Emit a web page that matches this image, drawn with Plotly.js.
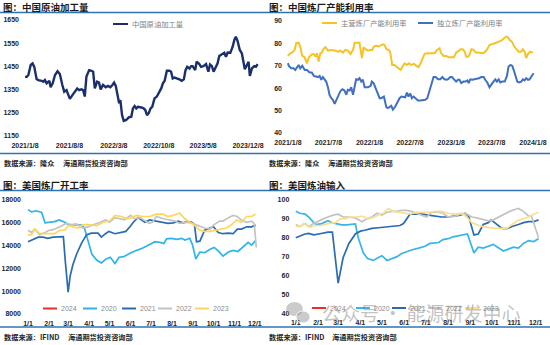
<!DOCTYPE html>
<html><head><meta charset="utf-8">
<script src="https://cdn.plot.ly/plotly-3.0.1.min.js"></script>
<style>html,body{margin:0;padding:0;background:#fff}#chart{width:550px;height:345px}</style>
</head><body><div id="chart"></div>
<script>
// ---------- Panel 1: China crude runs (days since 2021-01-08) ----------
const crudeStart = '2021-01-08';
const crudeDays = [0,8,16,27,36,44,55,63,79,87,95,103,116,122,132,143,155,166,178,187,198,206,214,227,238,249,258,269,277,285,293,306,317,325,333,344,353,361,372,385,396,407,417,425,433,441,449,455,463,471,483,495,507,515,523,531,539,555,566,574,582,591,599,607,618,629,639,650,658,666,677,689,697,705,713,729,737,748,758,766,774,785,793,800,812,819,832,840,851,864,875,883,892,900,911,919,927,935,943,951,959,967,980,991,999,1006,1014,1025,1035,1041,1049,1059,1067,1073,1083,1094,1102,1110];
const crudeRuns = [1405,1405,1413,1456,1463,1448,1396,1391,1388,1384,1391,1377,1388,1360,1377,1413,1429,1417,1370,1341,1348,1327,1310,1327,1341,1355,1348,1351,1348,1320,1406,1434,1431,1427,1355,1384,1380,1351,1370,1360,1366,1360,1370,1380,1366,1320,1291,1305,1240,1215,1219,1230,1233,1269,1279,1269,1276,1273,1269,1262,1240,1250,1269,1276,1312,1320,1334,1355,1377,1387,1431,1431,1427,1398,1402,1398,1394,1388,1394,1434,1448,1441,1451,1451,1434,1470,1460,1448,1451,1460,1427,1458,1451,1427,1448,1463,1495,1499,1503,1509,1491,1510,1509,1535,1564,1578,1561,1521,1506,1470,1438,1456,1470,1409,1441,1451,1448,1460];
const crudeName = '中国原油加工量';
const p1TickDates = ['2021-01-08','2021-08-08','2022-03-08','2022-10-08','2023-05-08','2023-12-08'];
const p1TickText = ['2021/1/8','2021/8/8','2022/3/8','2022/10/8','2023/5/8','2023/12/8'];

// ---------- Panel 2: refinery utilisation ----------
const utilStart = '2021-01-08';
const mainDays = [0,7,18,30,37,48,55,64,75,85,94,104,115,124,130,137,145,152,161,168,179,194,209,224,234,246,256,268,280,291,298,310,320,331,338,347,358,370,377,384,395,405,414,425,432,440,450,457,466,477,484,495,504,514,522,532,541,551,563,574,584,592,600,611,623,641,656,666,678,685,696,708,718,730,742,752,763,772,782,790,797,805,812,820,830,839,849,860,872,882,891,901,916,931,942,954,966,976,983,991,1001,1010,1021,1031,1043,1050,1058,1065,1073,1083,1095];
const mainUtil = [74.3,75.2,75.8,77,80,80.2,78.5,74.3,73.7,71,73.7,74.8,75.2,74,75.5,71.8,75.5,75.8,77.7,78.2,76.7,77,76.7,76.2,76.7,75.8,77,76.7,75.2,77,80.2,80.2,80.2,73.3,78.2,77.3,76.7,77,77,78.5,78.8,78.5,78.8,79.5,79.2,77.3,77,76.2,70.3,70.3,69.6,68.8,68.1,69.9,71,70.3,71,70.3,70.8,69.9,69.3,70.8,72.8,75.2,75.5,75.5,75.5,77,77.7,75.5,74.3,74.3,73.7,73.7,73.7,75.8,76.7,77.3,77.3,76.2,74,74,74.8,77.3,77,75.8,75.8,75.5,75.5,76.2,77.3,79.2,79.6,80.2,80.7,81.1,82.2,82.9,82.6,81.4,80.7,78.8,77.3,76.2,76.2,77.3,76.2,73.3,75.2,76.2,75.8];
const indepDays = [0,4,15,25,33,42,48,55,64,75,85,97,107,116,127,134,142,149,156,164,171,179,186,194,201,209,216,224,234,243,253,261,268,276,283,291,298,305,313,320,328,335,343,358,370,375,383,390,399,410,417,429,440,447,454,462,469,480,489,499,507,517,524,532,539,547,554,562,569,581,592,603,614,623,630,638,645,651,660,671,681,690,700,708,715,726,733,742,752,760,767,775,785,794,802,808,815,824,834,845,854,864,875,882,891,901,909,919,927,934,942,949,958,969,979,986,995,1003,1010,1018,1025,1033,1043,1050,1058,1065,1073,1080,1091,1098];
const indepUtil = [71.1,69.9,68.8,68.8,68.1,69.6,70.3,68.8,69.9,68.1,68.1,66.9,66.9,65.4,65.1,64.9,65.4,63.7,64.9,63.7,62.9,60.4,57,55.5,54.8,53,54.8,56.2,58.5,59.5,58.9,57,59.2,58.9,60.4,57,61.4,63.9,63.7,64.4,62.9,63.7,60.4,60.4,61,62.9,62.2,60.4,58,55.5,55.5,56.2,51.5,51.1,51.5,52.1,50.4,51.8,53.6,55.5,56.2,55.9,55.9,58,56.2,57.6,55.5,56.2,55.5,54.5,54.5,54.8,54.8,55.5,57.6,60.4,62.9,64.9,64.9,63.9,63.9,64.9,63.9,63.7,63.9,64.9,64.9,63.7,62.9,63.7,63.7,62.2,62.9,62.9,63.4,62.2,63.9,63.7,63.9,64.4,64.4,64.9,64.9,63.7,62.5,60.4,61.8,62.9,63.9,62.9,63.9,62.5,62.9,62.9,65.4,69.6,70.3,69.9,67.8,65.1,62.9,62.5,62.9,63.9,63.4,64.4,63.7,63.9,65.9,66.6];
const utilNames = ['主营炼厂产能利用率','独立炼厂产能利用率'];
const p2TickDates = ['2021-01-08','2021-07-08','2022-01-08','2022-07-08','2023-01-08','2023-07-08','2024-01-08'];
const p2TickText = ['2021/1/8','2021/7/8','2022/1/8','2022/7/8','2023/1/8','2023/7/8','2024/1/8'];

// ---------- Panel 3: US refinery runs by year (day of year) ----------
const yearNames = ['2024','2020','2021','2022','2023'];
const runsDays = {
  '2024': [],
  '2020': [0,5,12,20,25,32,39,46,54,59,69,79,83,88,94,101,108,115,121,128,134,141,150,160,169,179,187,194,200,204,211,219,226,231,238,242,247,253,260,268,274,280,287,295,302,309,317,324,329,335],
  '2021': [0,7,15,22,29,37,44,52,55,59,62,66,72,79,86,93,103,108,114,119,128,138,144,150,155,162,167,172,179,189,199,206,214,221,228,236,241,245,248,253,260,265,273,280,287,295,302,308,314,322,329,335],
  '2022': [0,5,10,17,25,31,37,47,56,64,71,81,88,98,106,114,120,128,135,142,151,157,165,170,178,183,189,199,209,216,223,233,242,250,260,268,274,282,287,295,302,308,314,322,329,333,336],
  '2023': [0,5,10,17,25,32,39,47,54,59,66,74,81,88,101,111,120,128,138,145,152,160,169,179,189,199,206,214,223,231,238,246,253,260,268,275,285,292,300,307,314,322,329,335]
};
const runsVals = {
  '2024': [],
  '2020': [17100,16900,17000,16850,15950,16000,16050,16200,16000,15800,15750,15750,15500,14400,13200,12700,12450,12800,12950,12400,12950,13000,13300,13550,13750,14050,14300,14250,14150,14550,14600,14500,14600,14450,14600,14050,12800,13400,13350,13650,13800,13500,13050,13400,13550,13450,13900,14250,14000,14400],
  '2021': [14300,14500,14700,14700,14600,14700,14750,14750,12500,9900,11300,12300,13300,14200,14900,15050,15050,14700,15000,15200,15000,15100,15200,15600,16000,16400,16200,16000,16200,16100,16000,15900,15950,16100,15950,16050,16000,15800,14300,14350,15300,15400,15600,15100,15000,15050,15000,15400,15400,15600,15600,15750],
  '2022': [15300,15100,15400,14900,15100,15300,15350,15600,15900,15800,15850,15500,15600,15800,16000,16200,16000,16400,16300,16200,16600,16300,16400,16200,15900,16000,16500,16300,16200,16100,15900,16000,15900,15700,15500,15400,15800,16100,16100,16400,16600,16500,16200,16000,16100,15900,13800],
  '2023': [14900,14900,15400,15000,15000,15000,15000,15300,15300,15700,15600,15500,15800,15800,15700,16000,16100,16600,16500,16300,16400,16600,16500,16500,16700,16700,16500,16600,16800,16300,16000,15700,15300,15200,15200,15300,15400,15500,15800,16200,16000,16500,16500,16700]
};

// ---------- Panel 4: US refinery utilisation by year ----------
const utilYDays = {
  '2024': [],
  '2020': [0,6,13,18,25,29,36,41,45,50,57,64,71,78,83,87,94,100,108,115,120,127,134,141,147,154,161,171,180,187,194,199,205,212,219,226,233,239,248,254,261,268,275,281,289,296,303,310,317,324,331,338],
  '2021': [0,6,13,18,25,32,38,45,51,59,66,74,83,90,96,106,115,122,129,138,145,150,154,159,166,175,185,194,203,212,222,229,236,241,248,254,261,268,272,280,287,294,301,310,317,324,331,338],
  '2022': [0,6,13,18,25,32,38,45,52,59,66,73,83,92,99,106,113,120,127,134,141,147,154,161,168,175,182,189,199,205,212,222,229,236,245,252,261,268,275,282,291,298,305,310,317,324,328,338],
  '2023': [0,6,11,15,20,27,36,45,55,62,69,76,85,92,101,110,117,122,129,136,143,152,159,168,178,185,194,203,212,222,231,238,245,252,259,268,277,287,294,301,308,317,324,331,338]
};
const utilYVals = {
  '2024': [],
  '2020': [94,93,92.5,91,88,87,87.5,88.5,89,88,87.2,86.8,86.8,87,87.3,80,72,69,68,69.5,70.5,68,69,70,71.5,72.5,73.5,74.5,75.5,77,77.5,77.5,79,79.5,80.5,81,81.5,82,72,75,74.5,75.5,76.5,75,73,74,75,74.5,77,78.5,78,79.5],
  '2021': [80,81,82,82.3,81.5,82,82.5,83,83,56,69.5,77,82,83.5,84,85,85.3,85.5,86,86.3,86.5,87.5,89.5,92.5,92.5,92.5,92,91.5,91,91,91.5,92,93,91,81.5,82,87,88,89.5,87,85,84.8,86,87,88,88.5,88.5,89.5],
  '2022': [87,86,87.5,86,87.5,89,90,91,92,92.5,91,91,90.5,88.5,90,91,93,92,93.5,94,94,94.5,94.5,94,93,92,91,93.5,93.5,93,91,91.5,92.5,93,91,90.5,89.5,89,89.5,91,92.5,94,95,95.5,94,91.5,91.5,80],
  '2023': [86,86,87.5,86.5,85.5,86.5,86.5,87.5,88,90,90,91,91,91.5,90,91,92.5,93,95.5,94,93.5,93,92.5,93.5,93.5,93.5,94,94,93,92.5,93,91,88,87,86,85.5,85,85,85,87,89,90,91,92.5,93.5]
};
const seasonBase = '2021-01-01';
const seasonTickDates = ['2021-01-01','2021-02-01','2021-03-01','2021-04-01','2021-05-01','2021-06-01','2021-07-01','2021-08-01','2021-09-01','2021-10-01','2021-11-01','2021-12-01'];
const seasonTickText = ['1/1','2/1','3/1','4/1','5/1','6/1','7/1','8/1','9/1','10/1','11/1','12/1'];

// ---------- helpers / styles ----------
const W = 550, H = 345;
const px = v => v / W, py = v => 1 - v / H;
function addDays(base, n) {
  const d = new Date(base + 'T00:00:00Z');
  d.setUTCDate(d.getUTCDate() + Math.round(n));
  return d.toISOString().slice(0, 10);
}
const CJK = 'Noto Sans CJK SC, sans-serif';
const NUM = 'Liberation Sans, Arial, sans-serif';
const tickFont = {family: NUM, size: 7, color: '#262626', weight: 'bold'};
const c3 = {'2024':'#e8302a','2020':'#2fb3ea','2021':'#2a6cb2','2022':'#c3c3c3','2023':'#ffd65c'};
const c4 = {'2024':'#e8302a','2020':'#35b5ea','2021':'#2a6cb2','2022':'#c3c3c3','2023':'#f9e08f'};
const navy = '#1b2f6a', mainCol = '#f7c223', indepCol = '#4170c2';

const traces = [];
traces.push({x: crudeDays.map(d => addDays(crudeStart, d)), y: crudeRuns, name: crudeName, type: 'scatter', mode: 'lines',
  line: {color: navy, width: 2.4}, xaxis: 'x', yaxis: 'y'});
traces.push({x: mainDays.map(d => addDays(utilStart, d)), y: mainUtil, name: utilNames[0], type: 'scatter', mode: 'lines',
  line: {color: mainCol, width: 2}, xaxis: 'x2', yaxis: 'y2'});
traces.push({x: indepDays.map(d => addDays(utilStart, d)), y: indepUtil, name: utilNames[1], type: 'scatter', mode: 'lines',
  line: {color: indepCol, width: 2}, xaxis: 'x2', yaxis: 'y2'});
const drawOrder = ['2020','2021','2022','2023','2024'];
drawOrder.forEach(yr => {
  traces.push({x: runsDays[yr].map(d => addDays(seasonBase, d)), y: runsVals[yr], name: yr, type: 'scatter', mode: 'lines',
    line: {color: c3[yr], width: 1.7}, xaxis: 'x3', yaxis: 'y3'});
});
drawOrder.forEach(yr => {
  traces.push({x: utilYDays[yr].map(d => addDays(seasonBase, d)), y: utilYVals[yr], name: yr, type: 'scatter', mode: 'lines',
    line: {color: c4[yr], width: 1.7}, xaxis: 'x4', yaxis: 'y4'});
});

function xax(dom, base, r0, r1, tv, tt, anchor) {
  return {domain: [px(dom[0]), px(dom[1])], type: 'date', range: [addDays(base, r0), addDays(base, r1)],
    tickmode: 'array', tickvals: tv, ticktext: tt, tickfont: tickFont, showgrid: false, zeroline: false,
    showline: false, ticks: '', ticklabelstandoff: 4, anchor: anchor, fixedrange: true};
}
function yax(dom, r, t0, dt, anchor) {
  return {domain: [py(dom[1]), py(dom[0])], range: r, tickmode: 'linear', tick0: t0, dtick: dt, tickfont: tickFont,
    tickformat: 'd', showgrid: false, zeroline: false, showline: false, ticks: '', ticklabelstandoff: 4,
    anchor: anchor, fixedrange: true};
}

const shapes = [];
const annotations = [];
const blue = '#2f75b5';
[12.5, 153.5, 190.5, 327].forEach(yv => shapes.push({type: 'line', xref: 'paper', yref: 'paper', x0: 0, x1: 1,
  y0: py(yv), y1: py(yv), line: {color: blue, width: 1.5}}));

function note(text, x, y, font, xanchor) {
  annotations.push({text: text, x: px(x), y: py(y), xref: 'paper', yref: 'paper', xanchor: xanchor || 'left',
    yanchor: 'middle', showarrow: false, font: font});
}
const titleFont = {family: CJK, size: 9.5, color: '#1a1a1a', weight: 'bold'};
const srcFont = {family: CJK, size: 7.2, color: '#262626', weight: 'bold'};
const legFont = {family: CJK, size: 7.3, color: '#7f7f7f'};
const legNumFont = {family: NUM, size: 7, color: '#8c8c8c'};

note('图：中国原油加工量', 1, 6.5, titleFont);
note('图：中国炼厂产能利用率', 267, 6.5, titleFont);
note('图：美国炼厂开工率', 1, 184.5, titleFont);
note('图：美国炼油输入', 267, 184.5, titleFont);
note('数据来源：隆众', 2, 163.5, srcFont);
note('海通期货投资咨询部', 61, 163.5, srcFont);
note('数据来源：隆众', 267, 163.5, srcFont);
note('海通期货投资咨询部', 326, 163.5, srcFont);
note('数据来源：IFIND', 2, 337, srcFont);
note('海通期货投资咨询部', 66, 337, srcFont);
note('数据来源：IFIND', 267, 337, srcFont);
note('海通期货投资咨询部', 330, 337, srcFont);

// manual legends
function legItem(x, y, color, text, font, len) {
  shapes.push({type: 'line', xref: 'paper', yref: 'paper', x0: px(x), x1: px(x + len), y0: py(y), y1: py(y),
    line: {color: color, width: 2}});
  note(text, x + len + 2, y, font);
}
legItem(113, 24, navy, crudeName, legFont, 15);
legItem(322, 23, mainCol, utilNames[0], legFont, 15);
legItem(418, 23, indepCol, utilNames[1], legFont, 15);
const leg3x = [43, 83, 122, 158, 195];
const leg4x = [312, 356, 392, 428, 465];
yearNames.forEach((yr, i) => {
  legItem(leg3x[i], 308.5, c3[yr], yr, legNumFont, 14);
  legItem(leg4x[i], 308, c4[yr], yr, legNumFont, 14);
});

// watermark
shapes.push({type: 'circle', xref: 'paper', yref: 'paper', x0: px(286), x1: px(303), y0: py(316), y1: py(302),
  fillcolor: 'rgba(140,140,140,0.45)', line: {width: 0}});
shapes.push({type: 'circle', xref: 'paper', yref: 'paper', x0: px(296), x1: px(310), y0: py(323), y1: py(311),
  fillcolor: 'rgba(140,140,140,0.45)', line: {color: 'rgba(255,255,255,0.8)', width: 1}});
annotations.push({text: '公众号 · 能源研发中心', x: px(320), y: py(312), xref: 'paper', yref: 'paper',
  xanchor: 'left', yanchor: 'middle', showarrow: false,
  font: {family: CJK, size: 19, color: 'rgba(120,120,120,0.45)'}});

const layout = {
  width: W, height: H, margin: {l: 0, r: 0, t: 0, b: 0}, paper_bgcolor: '#fff', plot_bgcolor: 'rgba(0,0,0,0)',
  showlegend: false,
  xaxis: xax([24, 262], crudeStart, -5, 1131, p1TickDates, p1TickText, 'y'),
  yaxis: yax([20, 136], [1150, 1650], 1150, 100, 'x'),
  xaxis2: xax([287, 545], utilStart, -4, 1149, p2TickDates, p2TickText, 'y2'),
  yaxis2: yax([20.7, 133], [40, 90], 40, 10, 'x2'),
  xaxis3: xax([26, 259], seasonBase, -3, 340, seasonTickDates, seasonTickText, 'y3'),
  yaxis3: yax([199.3, 314], [8000, 18000], 8000, 2000, 'x3'),
  xaxis4: xax([294.3, 540], seasonBase, -2, 340, seasonTickDates, seasonTickText, 'y4'),
  yaxis4: yax([200, 313.3], [40, 100], 40, 10, 'x4'),
  shapes: shapes, annotations: annotations
};
Plotly.newPlot('chart', traces, layout, {staticPlot: true, displayModeBar: false});
</script></body></html>
